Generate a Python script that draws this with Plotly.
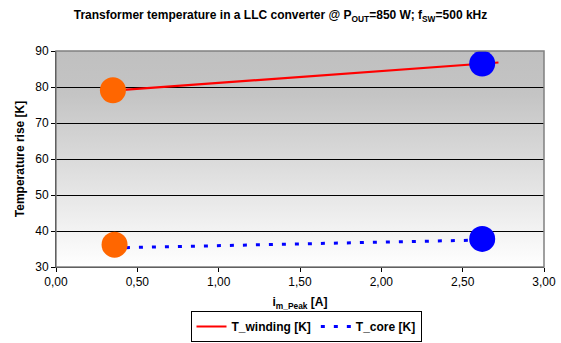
import base64
import plotly.graph_objects as go

# Magnetizing peak current [A] and temperature rise [K]
line_x = [0.35, 2.72]
winding_line = [79.0, 86.8]
core_line = [35.3, 37.6]

low_x = [0.35, 0.36]
low_y = [79.1, 36.2]
high_x = [2.62, 2.62]
high_y = [86.5, 37.8]

x_ticks = [0.0, 0.5, 1.0, 1.5, 2.0, 2.5, 3.0]
y_ticks = [30, 40, 50, 60, 70, 80, 90]

FONT = "Liberation Sans, Arial, sans-serif"

fig = go.Figure()

fig.add_trace(go.Scatter(
    x=line_x, y=winding_line, mode="lines", name="T_winding [K]",
    line=dict(color="#FF0000", width=2.2),
))
fig.add_trace(go.Scatter(
    x=line_x, y=core_line, mode="lines", name="T_core [K]",
    line=dict(color="#0000FF", width=3, dash="4px,9px"),
))
fig.add_trace(go.Scatter(
    x=low_x, y=low_y, mode="markers", showlegend=False,
    marker=dict(color="#FF6600", size=26, line=dict(width=0)),
))
fig.add_trace(go.Scatter(
    x=high_x, y=high_y, mode="markers", showlegend=False,
    marker=dict(color="#0000FF", size=26, line=dict(width=0)),
))

# Vertical grey-to-white gradient for the plot area
svg = (
    '<svg xmlns="http://www.w3.org/2000/svg" width="100" height="100" '
    'preserveAspectRatio="none">'
    '<defs><linearGradient id="g" x1="0" y1="0" x2="0" y2="1">'
    '<stop offset="0" stop-color="#c0c0c0"/>'
    '<stop offset="0.2" stop-color="#c4c4c4"/>'
    '<stop offset="1" stop-color="#ffffff"/>'
    '</linearGradient></defs>'
    '<rect width="100" height="100" fill="url(#g)"/></svg>'
)
src = "data:image/svg+xml;base64," + base64.b64encode(svg.encode()).decode()

fig.add_layout_image(
    source=src, xref="paper", yref="paper", x=0, y=1, sizex=1, sizey=1,
    sizing="stretch", xanchor="left", yanchor="top", layer="below",
)

# Plot-area frame (grey top/right edges)
fig.add_shape(type="rect", xref="paper", yref="paper", x0=0, y0=0, x1=1, y1=1,
              line=dict(color="#808080", width=1.5), layer="above")

fig.update_layout(
    width=561, height=343,
    margin=dict(l=56, r=17, t=51, b=76, autoexpand=False),
    paper_bgcolor="white",
    plot_bgcolor="rgba(0,0,0,0)",
    separators=",.",
    font=dict(family=FONT, size=11, color="black"),
    title=dict(
        text="<b>Transformer temperature in a LLC converter @ P<sub>OUT</sub>=850 W; "
             "f<sub>SW</sub>=500 kHz</b>",
        x=0.5, xref="container", xanchor="center",
        y=1 - 15 / 343, yref="container", yanchor="middle",
        font=dict(family=FONT, size=12, color="black"),
    ),
    xaxis=dict(
        range=[0, 3], tickvals=x_ticks, tickformat=".2f",
        ticks="outside", ticklen=4, tickcolor="black",
        showline=True, linecolor="black", linewidth=1,
        showgrid=False, zeroline=False, automargin=False,
        tickfont=dict(size=12),
        title=dict(text="<b>i<sub>m_Peak</sub> [A]</b>", standoff=12,
                   font=dict(size=12)),
    ),
    yaxis=dict(
        range=[30, 90], tickvals=y_ticks,
        ticks="outside", ticklen=4, tickcolor="black",
        showline=True, linecolor="black", linewidth=1,
        showgrid=True, gridcolor="black", gridwidth=1, zeroline=False,
        automargin=False,
        tickfont=dict(size=12),
        title=dict(text="<b>Temperature rise [K]</b>", standoff=8,
                   font=dict(size=12)),
    ),
    legend=dict(
        orientation="h", x=306 / 561, xref="container", xanchor="center",
        y=1 - 342 / 343, yref="container", yanchor="bottom",
        bordercolor="black", borderwidth=1, bgcolor="white",
        font=dict(family=FONT, size=12, color="black", weight="bold"),
        itemwidth=30, tracegroupgap=0,
    ),
)

fig.write_html("out.html")
